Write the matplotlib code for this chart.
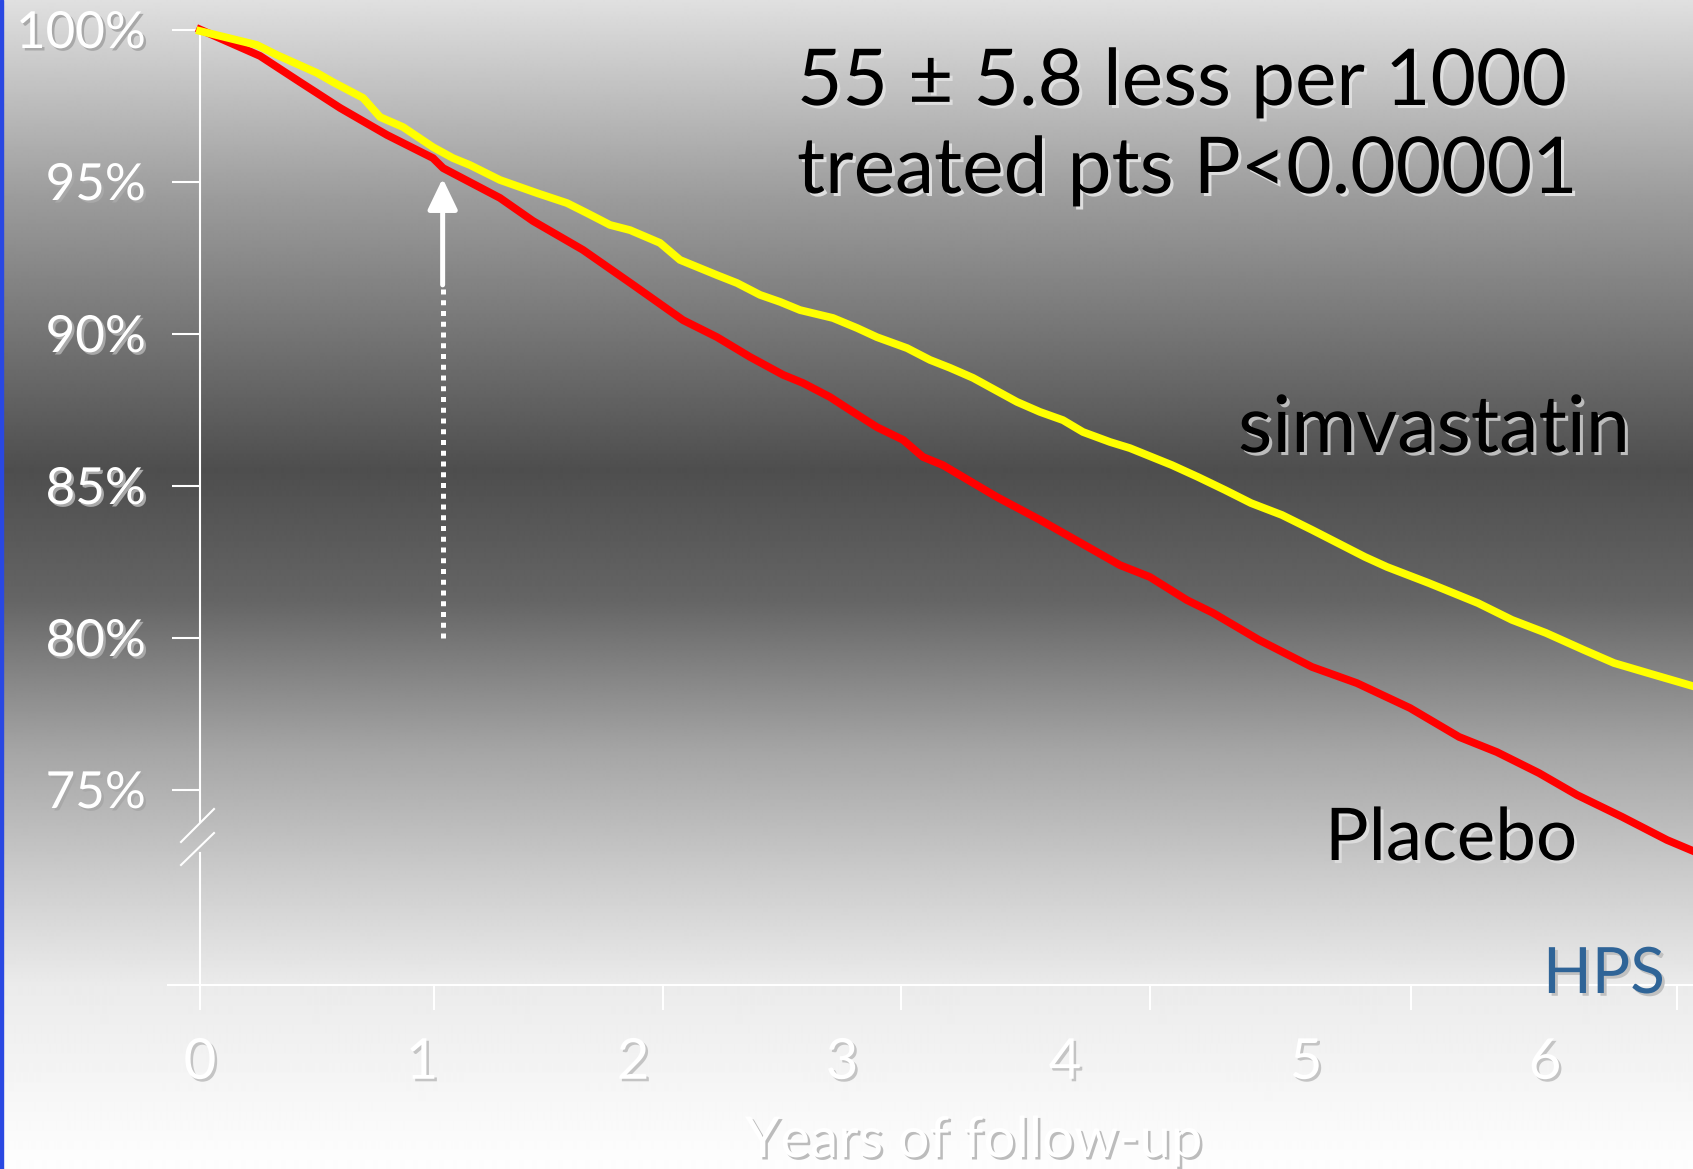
import numpy as np
import matplotlib
matplotlib.use("Agg")
import matplotlib.pyplot as plt
import matplotlib.patheffects as pe
from matplotlib import font_manager as fm
from matplotlib.patches import Rectangle

# ---------------- data ----------------
placebo_years = [0.0, 0.261, 0.435, 0.609, 0.813, 1.013, 1.057, 1.304, 1.448, 1.665,
                 1.883, 2.100, 2.248, 2.391, 2.535, 2.622, 2.739, 2.839, 2.943, 3.057,
                 3.143, 3.230, 3.465, 3.652, 3.783, 4.000, 4.130, 4.291, 4.404, 4.604,
                 4.835, 5.030, 5.261, 5.474, 5.639, 5.822, 5.987, 6.183, 6.378, 6.491]
placebo_surv = [100.0, 99.13, 98.27, 97.42, 96.53, 95.77, 95.44, 94.46, 93.70, 92.75,
                91.60, 90.44, 89.88, 89.23, 88.64, 88.37, 87.91, 87.42, 86.92, 86.50,
                85.94, 85.67, 84.62, 83.87, 83.31, 82.38, 81.99, 81.23, 80.81, 79.92,
                79.03, 78.50, 77.68, 76.73, 76.23, 75.54, 74.82, 74.10, 73.34, 72.98]

simva_years = [0.0, 0.248, 0.335, 0.509, 0.578, 0.709, 0.783, 0.883, 1.013, 1.100,
               1.174, 1.304, 1.465, 1.596, 1.683, 1.783, 1.870, 2.000, 2.087, 2.248,
               2.335, 2.435, 2.522, 2.609, 2.752, 2.857, 2.943, 3.074, 3.174, 3.261,
               3.361, 3.552, 3.652, 3.752, 3.839, 3.957, 4.043, 4.226, 4.339, 4.457,
               4.570, 4.704, 4.835, 5.065, 5.161, 5.343, 5.557, 5.704, 5.852, 6.017,
               6.148, 6.296, 6.491]
simva_surv = [99.95, 99.49, 99.16, 98.57, 98.27, 97.75, 97.12, 96.79, 96.13, 95.77,
              95.54, 95.05, 94.62, 94.29, 93.96, 93.57, 93.40, 92.98, 92.42, 91.92,
              91.66, 91.27, 91.04, 90.77, 90.51, 90.18, 89.88, 89.52, 89.13, 88.87,
              88.54, 87.75, 87.42, 87.15, 86.76, 86.43, 86.23, 85.67, 85.28, 84.85,
              84.42, 84.03, 83.54, 82.65, 82.32, 81.79, 81.13, 80.58, 80.15, 79.59,
              79.16, 78.83, 78.40]

y_ticks = [75, 80, 85, 90, 95, 100]
y_tick_labels = ["75%", "80%", "85%", "90%", "95%", "100%"]
x_tick_marks = [0.0, 1.017, 2.013, 3.048, 4.13, 5.265, 6.42]
x_label_pos = [0.0, 0.965, 1.883, 2.791, 3.761, 4.809, 5.848]
x_tick_labels = ["0", "1", "2", "3", "4", "5", "6"]

arrow_year = 1.055
arrow_dot_bottom = 80.0
arrow_dot_top = 91.45
arrow_tip = 95.1

note_line1 = "55 \u00b1 5.8 less per 1000"
note_line2 = "treated pts P<0.00001"
label_simva = "simvastatin"
label_placebo = "Placebo"
label_study = "HPS"
x_title = "Years of follow-up"

# ---------------- layout helpers (pixel geometry of the slide) ----------------
W, H = 1693, 1169
X0_PX, PX_PER_YEAR = 200.0, 230.0
Y100_PX, PX_PER_PCT = 29.5, 30.4


def xd(px):
    return (px - X0_PX) / PX_PER_YEAR


def yd(py):
    return 100.0 - (py - Y100_PX) / PX_PER_PCT


def fx(px):
    return px / W


def fy(py):
    return 1.0 - py / H


names = {f.name for f in fm.fontManager.ttflist}
FONT = "Lato" if "Lato" in names else "DejaVu Sans"
FAM = [FONT, "DejaVu Sans"]

fig = plt.figure(figsize=(W / 100, H / 100), dpi=100)
renderer = fig.canvas.get_renderer()

# background gradient
bg = fig.add_axes([0, 0, 1, 1], zorder=-5)
stops_y = [0, 200, 470, 600, 750, 880, 985, 1169]
stops_v = [224, 155, 78, 101, 165, 205, 235, 254]
grad = np.interp(np.arange(H), stops_y, stops_v)
bg.imshow(np.tile(grad[:, None], (1, 4)), aspect="auto", cmap="gray", vmin=0, vmax=255,
          extent=[0, 1, 0, 1], interpolation="bilinear")
bg.axis("off")
fig.add_artist(Rectangle((0, 0), 2.5 / W, 1, transform=fig.transFigure,
                         color="#2a48e2", zorder=20))

ax = fig.add_axes([0, 0, 1, 1])
ax.set_facecolor("none")
ax.set_xlim(xd(0), xd(W))
ax.set_ylim(yd(H), yd(0))

# curves
ax.plot(placebo_years, placebo_surv, color="#ff0000", lw=5.6, solid_joinstyle="round",
        zorder=3)
ax.plot(simva_years, simva_surv, color="#ffff00", lw=5.6, solid_joinstyle="round",
        zorder=4)

# axes lines
AXC = "white"
ALW = 1.5
for s in ["top", "right"]:
    ax.spines[s].set_visible(False)
ax.spines["left"].set_position(("data", 0))
ax.spines["left"].set_bounds(yd(822), 100)
ax.spines["left"].set_color(AXC)
ax.spines["left"].set_linewidth(ALW)
ax.spines["bottom"].set_position(("data", yd(985)))
ax.spines["bottom"].set_bounds(xd(168), xd(W))
ax.spines["bottom"].set_color(AXC)
ax.spines["bottom"].set_linewidth(ALW)
ax.plot([0, 0], [yd(853), yd(1006)], color=AXC, lw=ALW, clip_on=False, zorder=2)
# axis break marks
ax.plot([xd(181), xd(214)], [yd(842), yd(809)], color=AXC, lw=ALW, zorder=2)
ax.plot([xd(181), xd(214)], [yd(865), yd(833)], color=AXC, lw=ALW, zorder=2)


def fit(text, width_px, base=50.0):
    t = fig.text(0, 0, text, fontsize=base, family=FAM)
    w = t.get_window_extent(renderer=renderer).width
    t.remove()
    return base * width_px / w


def shadow(color, off=2.0):
    return [pe.withSimplePatchShadow(offset=(off, -off), shadow_rgbFace=color, alpha=1.0)]


# y ticks
ysize = fit("100%", 130)
ax.set_yticks(y_ticks, labels=y_tick_labels)
ax.tick_params(axis="y", direction="out", length=20, width=ALW, color=AXC,
               pad=19, labelsize=ysize, labelcolor="white")
for lab in ax.get_yticklabels():
    lab.set_family(FAM)
    lab.set_path_effects(shadow("#a8a8a8", 1.8))

# x ticks: marks (major) and labels (minor)
xsize = fit(x_title, 457)
ax.xaxis.remove_overlapping_locs = False
ax.set_xticks(x_tick_marks, labels=[""] * len(x_tick_marks))
ax.set_xticks(x_label_pos, labels=x_tick_labels, minor=True)
ax.tick_params(axis="x", which="major", direction="out", length=18, width=ALW, color=AXC)
ax.tick_params(axis="x", which="minor", length=0, pad=38, labelsize=xsize,
               labelcolor="white")
for lab in ax.get_xticklabels(minor=True):
    lab.set_family(FAM)
    lab.set_path_effects(shadow("#c4c4c4", 1.8))

# arrow marking the first year
ax.plot([arrow_year, arrow_year], [arrow_dot_bottom, arrow_dot_top], color="white",
        lw=3.6, dashes=(1, 1.15), dash_capstyle="butt", zorder=5)
ax.annotate("", xy=(arrow_year, arrow_tip), xytext=(arrow_year, arrow_dot_top + 0.15),
            arrowprops=dict(arrowstyle="-|>,head_length=1.35,head_width=0.65",
                            color="white", lw=3.6, mutation_scale=14,
                            shrinkA=0, shrinkB=0),
            zorder=5)

# texts
nsize = fit(note_line1, 770)
fig.text(fx(797), fy(105), note_line1, fontsize=nsize, family=FAM, color="black",
         ha="left", va="baseline", path_effects=shadow("#dedede", 2.2))
fig.text(fx(797), fy(193), note_line2, fontsize=nsize, family=FAM, color="black",
         ha="left", va="baseline", path_effects=shadow("#dedede", 2.2))
fig.text(fx(1238), fy(452), label_simva, fontsize=fit(label_simva, 392), family=FAM,
         color="black", ha="left", va="baseline", path_effects=shadow("#bdbdbd", 2.2))
fig.text(fx(1325), fy(860), label_placebo, fontsize=fit(label_placebo, 252), family=FAM,
         color="black", ha="left", va="baseline", path_effects=shadow("#dcdcdc", 2.2))
fig.text(fx(1543), fy(993), label_study, fontsize=fit(label_study, 122), family=FAM,
         color="#2f6497", ha="left", va="baseline", path_effects=shadow("#c0c0c0", 2.0))
fig.text(fx(745), fy(1157), x_title, fontsize=xsize, family=FAM, color="white",
         ha="left", va="baseline", path_effects=shadow("#bcbcbc", 1.8))

fig.savefig("out.png", dpi=100)
